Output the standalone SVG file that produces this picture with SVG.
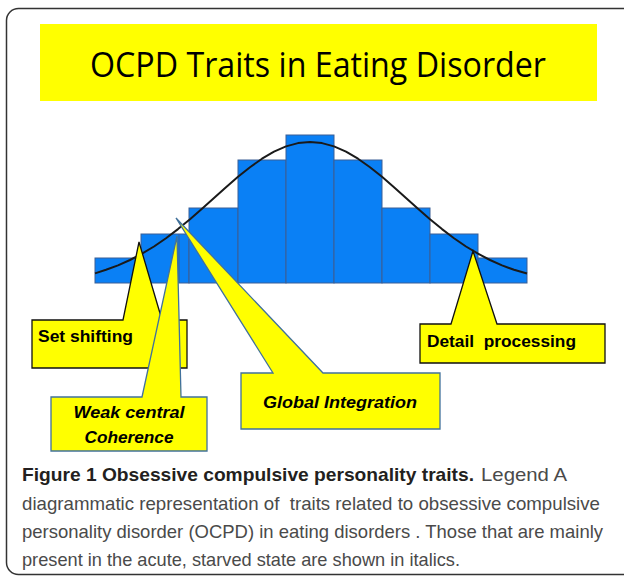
<svg xmlns="http://www.w3.org/2000/svg" width="624" height="576" viewBox="0 0 624 576">
<style>
.bar{fill:#0a80f5;stroke:#3a5f95;stroke-width:1}
.call{fill:#ffff00;stroke-width:1.3;stroke-linejoin:miter}
.blk{stroke:#111}
.blu{stroke:#41719c}
.lbl{font-family:"Liberation Sans",Arial,sans-serif;font-weight:bold;font-size:17px;fill:#000}
.cap{font-family:"Liberation Sans",Arial,sans-serif;font-size:19px;fill:#4a4a4a}
</style>
<rect width="624" height="576" fill="#fff"/>
<rect x="6.5" y="8.5" width="660" height="566" rx="12" fill="none" stroke="#333" stroke-width="1.5"/>
<g id="title">
<rect x="40" y="24" width="557" height="77" fill="#ffff00"/>
<text x="318" y="77" text-anchor="middle" font-family="'Open Sans','Liberation Sans',sans-serif" font-size="34" textLength="456" lengthAdjust="spacingAndGlyphs" fill="#000">OCPD Traits in Eating Disorder</text>
</g>
<g id="histogram">
<rect class="bar" x="95" y="258" width="46" height="25"/>
<rect class="bar" x="141" y="234" width="48" height="49"/>
<line x1="179" y1="234" x2="179" y2="283" stroke="#3a5f95"/>
<rect class="bar" x="189" y="208" width="49" height="75"/>
<rect class="bar" x="238" y="160" width="48" height="123"/>
<rect class="bar" x="286" y="135" width="48" height="148"/>
<rect class="bar" x="334" y="160" width="48" height="123"/>
<rect class="bar" x="382" y="208" width="48" height="75"/>
<rect class="bar" x="430" y="234" width="48" height="49"/>
<rect class="bar" x="478" y="258" width="49" height="25"/>
<polyline fill="none" stroke="#1a1a1a" stroke-width="2" stroke-linejoin="round" points="95,273.4 106,269.8 118,265.4 130,260 142,253.7 154,246.5 166,238.2 178,229.1 190,219.2 202,208.7 214,198 226,187.2 238,176.8 250,167.2 262,158.7 274,151.6 286,146.4 298,143.1 310,142 322,143.1 334,146.4 346,151.6 358,158.7 370,167.2 382,176.8 394,187.2 406,198 418,208.7 430,219.2 442,229.1 454,238.2 466,246.5 478,253.7 490,260 502,265.4 514,269.8 527,273.5"/>
</g>
<g id="set-shifting">
<polygon class="call blk" points="32,320 123,320 139,242 162,320 187,320 187,368 32,368"/>
<text class="lbl" x="38" y="342" textLength="95" lengthAdjust="spacingAndGlyphs">Set shifting</text>
</g>
<g id="weak-central-coherence">
<polygon class="call blu" points="51,397 142,397 177,236 181,397 207,397 207,451 51,451"/>
<text class="lbl" font-style="italic" x="129" y="418" text-anchor="middle" textLength="111" lengthAdjust="spacingAndGlyphs">Weak central</text>
<text class="lbl" font-style="italic" x="129" y="443" text-anchor="middle" textLength="89" lengthAdjust="spacingAndGlyphs">Coherence</text>
</g>
<g id="global-integration">
<polygon class="call blu" points="241,373 273,373 176,218 323,373 440,373 440,429 241,429"/>
<text class="lbl" font-style="italic" x="340" y="408" text-anchor="middle" textLength="154" lengthAdjust="spacingAndGlyphs">Global Integration</text>
</g>
<g id="detail-processing">
<polygon class="call blk" points="420,324 451,324 473,251 497,324 605,324 605,363 420,363"/>
<text class="lbl" x="427" y="347" textLength="149" lengthAdjust="spacingAndGlyphs" xml:space="preserve">Detail  processing</text>
</g>
<g id="caption">
<text class="cap" x="22" y="481"><tspan font-weight="bold" fill="#231f20" textLength="452" lengthAdjust="spacingAndGlyphs">Figure 1 Obsessive compulsive personality traits.</tspan><tspan x="481" textLength="86" lengthAdjust="spacingAndGlyphs">Legend A</tspan></text>
<text class="cap" x="22" y="510" textLength="578" lengthAdjust="spacingAndGlyphs" xml:space="preserve">diagrammatic representation of  traits related to obsessive compulsive</text>
<text class="cap" x="22" y="538" textLength="581" lengthAdjust="spacingAndGlyphs">personality disorder (OCPD) in eating disorders . Those that are mainly</text>
<text class="cap" x="22" y="566" textLength="438" lengthAdjust="spacingAndGlyphs">present in the acute, starved state are shown in italics.</text>
</g>
</svg>
